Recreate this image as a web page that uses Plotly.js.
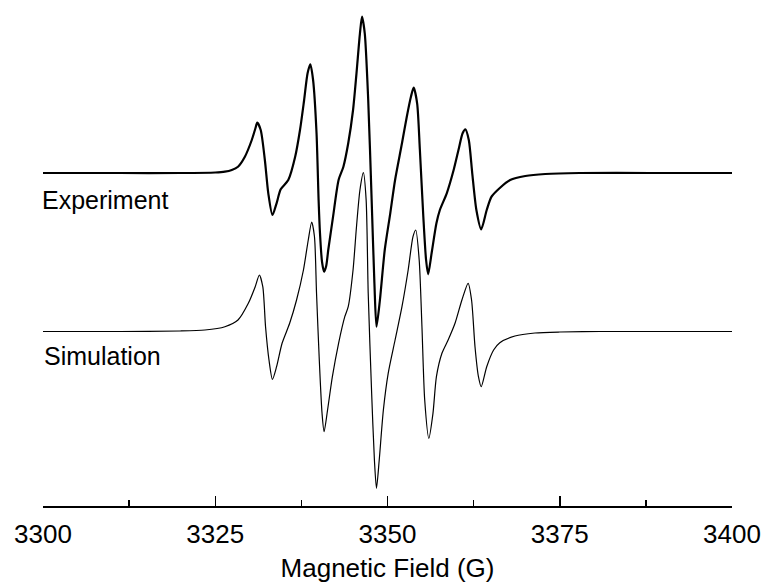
<!DOCTYPE html>
<html>
<head>
<meta charset="utf-8">
<script src="https://cdn.plot.ly/plotly-3.0.1.min.js"></script>
<style>
html,body{margin:0;padding:0;background:#fff;}
#chart{width:765px;height:583px;}
</style>
</head>
<body>
<div id="chart"></div>
<script>
// Magnetic field (G) and first-derivative EPR intensity (arb. units)
const expField = [3300,3311.2,3319.9,3325.0,3326.4,3327.4,3328.3,3329.3,3330.3,3330.8,3331.1,3331.6,3332.2,3332.7,3333.3,3333.9,3334.5,3335.6,3336.6,3337.3,3337.9,3338.4,3338.8,3339.2,3339.7,3340.0,3340.2,3340.5,3340.8,3341.1,3341.4,3342.1,3342.9,3343.6,3344.3,3345.0,3345.5,3346.0,3346.3,3346.7,3347.2,3347.7,3348.1,3348.4,3348.9,3349.6,3350.4,3351.1,3352.1,3352.8,3353.4,3353.8,3354.3,3354.7,3355.2,3355.6,3355.9,3356.4,3357.1,3357.6,3358.6,3359.6,3360.3,3360.9,3361.3,3361.8,3362.3,3362.9,3363.6,3364.4,3365.1,3366.3,3367.8,3370.0,3372.9,3377.9,3388.1,3400];
const expSignal = [0,0,0,0.5,1.3,3,6.3,16.3,33,44,50.3,43,13,-20.3,-42,-30.3,-16.3,-7,16.3,43,73,99.7,108.7,93,40,-27,-60,-89,-98.7,-93,-77,-43.7,-7,6.3,29.7,63,99.7,139.7,156.3,139.7,73,-27,-110.3,-153.7,-127,-77,-40.3,-7,29.7,56.3,76.3,85.3,69.7,23,-43.7,-87,-101.3,-80.3,-50.3,-37,-20.3,3,23,39.7,43.7,33,-0.3,-37,-56.3,-37,-23.7,-15,-7,-3,-1,0,0,0];

const simField = [3300,3311.2,3319.9,3323.5,3326.4,3328.3,3329.8,3330.8,3331.4,3331.9,3332.3,3332.8,3333.3,3333.9,3334.7,3335.8,3336.8,3337.8,3338.5,3339.0,3339.4,3339.7,3340.1,3340.5,3340.8,3341.3,3342.0,3342.9,3343.8,3344.3,3345.0,3345.5,3346.0,3346.5,3346.9,3347.2,3347.7,3348.1,3348.4,3348.8,3349.4,3350.1,3351.1,3352.1,3353.0,3353.7,3354.1,3354.6,3355.0,3355.4,3356.0,3356.6,3357.1,3357.9,3358.8,3359.8,3360.8,3361.7,3362.2,3362.7,3363.2,3363.6,3364.4,3365.4,3366.3,3368.5,3371.4,3375.0,3380.8,3400];
const simSignal = [0,0,0.5,1.5,4.8,11.5,28.2,44.8,56.5,44.8,4.8,-28.5,-47.8,-35.2,-11.8,8.2,31.5,61.5,91.5,109.5,94.8,38.2,-28.5,-81.8,-100.2,-78.5,-45.2,-11.8,14.8,24.8,61.5,104.8,141.5,158.8,131.5,38.2,-61.8,-128.5,-156.8,-128.5,-78.5,-41.8,-8.5,24.8,61.5,94.8,101.5,71.5,4.8,-68.5,-106.8,-81.8,-45.2,-21.8,-8.5,8.2,31.5,48.2,31.5,-15.2,-45.2,-55.2,-35.2,-18.5,-11.2,-4.5,-1.5,-0.5,0,0];

const traceNames = ['Experiment','Simulation'];
const xTickVals = [3300,3325,3350,3375,3400];
const xTickText = ['3300','3325','3350','3375','3400'];
const xTitle = 'Magnetic Field (G)';

const expOffset = 158.5; // vertical stacking offset of the experimental trace

const FONT = 'Liberation Sans, Arial, Helvetica, sans-serif';

const traces = [
  {
    x: expField,
    y: expSignal.map(v => v + expOffset),
    mode: 'lines',
    name: traceNames[0],
    line: {color: '#000', width: 2.2, shape: 'spline', smoothing: 0.7},
    hoverinfo: 'skip'
  },
  {
    x: simField,
    y: simSignal,
    mode: 'lines',
    name: traceNames[1],
    line: {color: '#000', width: 1.2, shape: 'spline', smoothing: 0.7},
    hoverinfo: 'skip'
  }
];

const layout = {
  width: 765, height: 583,
  margin: {l: 43, r: 33, t: 5, b: 77},
  paper_bgcolor: '#fff', plot_bgcolor: '#fff',
  showlegend: false,
  font: {family: FONT, color: '#000', size: 26},
  xaxis: {
    range: [3300, 3400],
    tickvals: xTickVals, ticktext: xTickText,
    ticks: 'inside', ticklen: 10, tickwidth: 1.5, tickcolor: '#000',
    minor: {dtick: 12.5, tick0: 3300, ticks: 'inside', ticklen: 6, tickwidth: 1.5, tickcolor: '#000', showgrid: false},
    showline: true, linecolor: '#000', linewidth: 1.5,
    showgrid: false, zeroline: false,
    ticklabelstandoff: 4,
    tickfont: {family: FONT, size: 26, color: '#000'},
    title: {text: xTitle, font: {family: FONT, size: 26, color: '#000'}, standoff: 14}
  },
  yaxis: {
    range: [-174.5, 326.5],
    visible: false, showgrid: false, zeroline: false
  },
  annotations: [
    {x: -0.005, y: 131.5, xref: 'paper', yref: 'y', text: traceNames[0], showarrow: false,
     xanchor: 'left', yanchor: 'middle', font: {family: FONT, size: 25, color: '#000'}},
    {x: -0.001, y: -24.5, xref: 'paper', yref: 'y', text: traceNames[1], showarrow: false,
     xanchor: 'left', yanchor: 'middle', font: {family: FONT, size: 25, color: '#000'}}
  ]
};

Plotly.newPlot('chart', traces, layout, {staticPlot: true, displayModeBar: false});
</script>
</body>
</html>
